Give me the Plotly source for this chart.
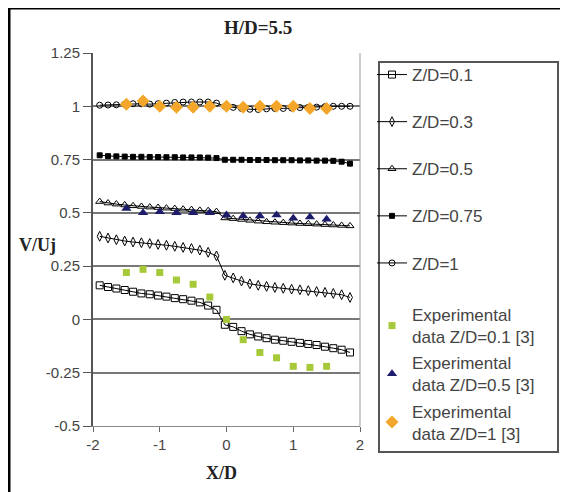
import plotly.graph_objects as go

# ---- data ----
x_sim = [-1.9, -1.775, -1.65, -1.525, -1.4, -1.275, -1.15, -1.025, -0.9, -0.775, -0.65,
         -0.525, -0.4, -0.275, -0.15, -0.025, 0.1, 0.225, 0.35, 0.475, 0.6, 0.725, 0.85,
         0.975, 1.1, 1.225, 1.35, 1.475, 1.6, 1.725, 1.85]
zd_01 = [0.16, 0.152, 0.145, 0.138, 0.13, 0.122, 0.118, 0.112, 0.107, 0.1, 0.095, 0.088,
         0.08, 0.065, 0.045, -0.025, -0.035, -0.055, -0.07, -0.08, -0.088, -0.095, -0.1,
         -0.105, -0.11, -0.115, -0.12, -0.128, -0.135, -0.142, -0.155]
zd_03 = [0.39, 0.382, 0.374, 0.368, 0.363, 0.36, 0.356, 0.352, 0.348, 0.343, 0.338, 0.333,
         0.325, 0.315, 0.298, 0.207, 0.195, 0.18, 0.167, 0.16, 0.155, 0.15, 0.146, 0.142,
         0.139, 0.135, 0.131, 0.127, 0.122, 0.116, 0.103]
zd_05 = [0.553, 0.546, 0.541, 0.537, 0.533, 0.53, 0.527, 0.525, 0.522, 0.52, 0.517, 0.515,
         0.512, 0.51, 0.506, 0.476, 0.473, 0.469, 0.465, 0.461, 0.458, 0.456, 0.454, 0.452,
         0.45, 0.449, 0.447, 0.445, 0.443, 0.441, 0.439]
zd_075 = [0.77, 0.766, 0.765, 0.764, 0.763, 0.763, 0.762, 0.762, 0.761, 0.761, 0.76, 0.76,
          0.76, 0.759, 0.757, 0.749, 0.749, 0.749, 0.748, 0.748, 0.748, 0.747, 0.747, 0.747,
          0.746, 0.746, 0.745, 0.745, 0.744, 0.74, 0.731]
zd_1 = [1.005, 1.006, 1.007, 1.01, 1.012, 1.012, 1.01, 1.012, 1.015, 1.018, 1.02, 1.02,
        1.02, 1.02, 1.015, 1.0, 0.995, 0.99, 0.986, 0.985, 0.988, 0.99, 0.99, 0.992, 0.994,
        0.995, 0.996, 0.998, 1.0, 1.0, 1.0]

x_exp = [-1.5, -1.25, -1.0, -0.75, -0.5, -0.25, 0.0, 0.25, 0.5, 0.75, 1.0, 1.25, 1.5]
exp_01 = [0.22, 0.235, 0.22, 0.185, 0.165, 0.105, 0.0, -0.095, -0.155, -0.18, -0.22, -0.225, -0.22]
exp_05 = [0.52, 0.5, 0.505, 0.5, 0.5, 0.5, 0.49, 0.485, 0.485, 0.49, 0.475, 0.48, 0.47]
exp_1 = [1.01, 1.025, 1.0, 0.995, 0.995, 1.0, 1.0, 0.995, 1.0, 1.0, 1.0, 0.99, 0.99]

y_ticks = [-0.5, -0.25, 0, 0.25, 0.5, 0.75, 1, 1.25]
y_tick_text = ["-0.5", "-0.25", "0", "0.25", "0.5", "0.75", "1", "1.25"]
x_ticks = [-2, -1, 0, 1, 2]

sim_series = [
    ("Z/D=0.1", zd_01, "square-open", 7),
    ("Z/D=0.3", zd_03, "diamond-tall-open", 7),
    ("Z/D=0.5", zd_05, "triangle-up-open", 7),
    ("Z/D=0.75", zd_075, "square", 5),
    ("Z/D=1", zd_1, "circle-open", 6),
]
exp_series = [
    ("Experimental<br>data Z/D=0.1 [3]", exp_01, "square", 7, "#a6c93a"),
    ("Experimental<br>data Z/D=0.5 [3]", exp_05, "triangle-up", 9, "#1c1c6b"),
    ("Experimental<br>data Z/D=1 [3]", exp_1, "diamond", 10, "#f4a62a"),
]

fig = go.Figure()
for i, (name, ys, sym, sz) in enumerate(sim_series):
    fig.add_trace(go.Scatter(
        x=x_sim, y=ys, name=name, mode="lines+markers", legend="legend",
        legendgroup="s%d" % i,
        line=dict(color="black", width=1),
        marker=dict(symbol=sym, size=sz, color="black", line=dict(color="black", width=1)),
    ))
for i, (name, ys, sym, sz, col) in enumerate(exp_series):
    fig.add_trace(go.Scatter(
        x=x_exp, y=ys, name=name, mode="markers", legend="legend2",
        legendgroup="e%d" % i,
        marker=dict(symbol=sym, size=sz, color=col, line=dict(width=0)),
    ))

W, H = 568, 492
OFF = 8  # page body margin: screen coords = figure coords + 8
L, R, T, B = 93 - OFF, 360 - OFF, 53 - OFF, 426 - OFF
pw, ph = R - L, B - T


def px(x):
    """screen x pixel -> paper coordinate"""
    return (x - OFF - L) / pw


def py(y):
    """screen y pixel -> paper coordinate"""
    return (B - (y - OFF)) / ph


serif = "Liberation Serif, Times New Roman, serif"
sans = "Liberation Sans, Arial, sans-serif"

fig.update_layout(
    width=W, height=H,
    margin=dict(l=L, r=W - R, t=T, b=H - B, pad=0),
    paper_bgcolor="white", plot_bgcolor="white",
    font=dict(family=sans, color="#444"),
    showlegend=True,
    legend=dict(
        x=px(372), y=py(57), xanchor="left", yanchor="top",
        traceorder="grouped", tracegroupgap=22,
        font=dict(size=17, color="#444", family=sans),
        bgcolor="rgba(0,0,0,0)", borderwidth=0,
    ),
    legend2=dict(
        x=px(372), y=py(297), xanchor="left", yanchor="top",
        traceorder="grouped", tracegroupgap=1,
        font=dict(size=17, color="#444", family=sans),
        bgcolor="rgba(0,0,0,0)", borderwidth=0,
    ),
    xaxis=dict(
        range=[-2, 2], tickvals=x_ticks, ticktext=[str(v) for v in x_ticks],
        showgrid=False, zeroline=False,
        showline=True, linecolor="#888", linewidth=1,
        ticks="outside", ticklen=5, tickcolor="#666",
        tickfont=dict(size=15, color="#444"),
    ),
    yaxis=dict(
        range=[-0.5, 1.25], tickvals=y_ticks, ticktext=y_tick_text,
        showgrid=True, gridcolor="#777", gridwidth=2,
        zeroline=False,
        showline=True, linecolor="#555", linewidth=2, mirror=False,
        ticks="outside", ticklen=8, tickcolor="#555",
        tickfont=dict(size=15, color="#444"),
    ),
    shapes=[
        dict(type="line", xref="paper", yref="paper", x0=1, x1=1, y0=0, y1=1,
             line=dict(color="#999", width=1)),
        dict(type="rect", xref="paper", yref="paper",
             x0=px(379), x1=px(558), y0=py(452), y1=py(62),
             line=dict(color="#555", width=2)),
        dict(type="rect", xref="paper", yref="paper",
             x0=px(9), x1=px(562), y0=py(500), y1=py(8),
             line=dict(color="black", width=3)),
    ],
    annotations=[
        dict(text="<b>H/D=5.5</b>", xref="paper", yref="paper", x=px(258), y=py(28),
             xanchor="center", yanchor="middle",
             showarrow=False, font=dict(family=serif, size=19, color="#222")),
        dict(text="<b>V/Uj</b>", xref="paper", yref="paper", x=px(37), y=py(245),
             xanchor="center", yanchor="middle",
             showarrow=False, font=dict(family=serif, size=18, color="#222")),
        dict(text="<b>X/D</b>", xref="paper", yref="paper", x=px(221), y=py(473),
             xanchor="center", yanchor="middle",
             showarrow=False, font=dict(family=serif, size=18, color="#222")),
    ],
)

fig.write_html("out.html")
